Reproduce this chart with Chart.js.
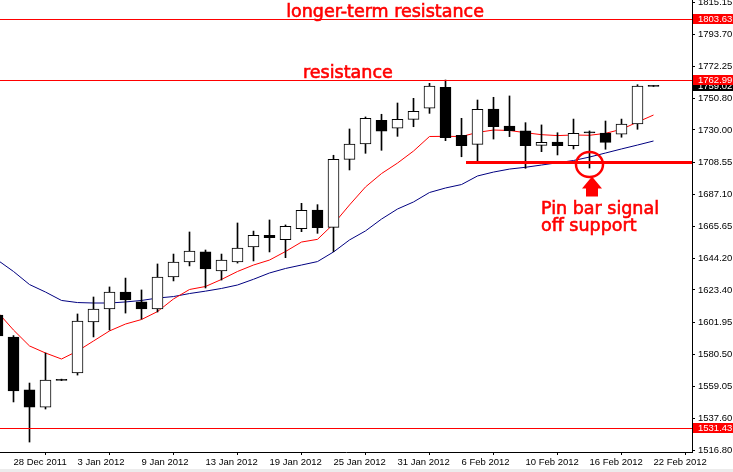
<!DOCTYPE html>
<html>
<head>
<meta charset="utf-8">
<script src="https://cdn.jsdelivr.net/npm/chart.js@4.4.1/dist/chart.umd.min.js"></script>
<style>
  html, body { margin: 0; padding: 0; background: #ececec; }
  #goldChart { display: block; background: #fff; }
</style>
</head>
<body>
<canvas id="goldChart" width="733" height="469"></canvas>
<script>
// Daily bars (gold)
const dates = [
    '27 Dec 2011', '28 Dec 2011', '29 Dec 2011', '30 Dec 2011', '2 Jan 2012', '3 Jan 2012',
    '4 Jan 2012', '5 Jan 2012', '6 Jan 2012', '9 Jan 2012', '10 Jan 2012', '11 Jan 2012',
    '12 Jan 2012', '13 Jan 2012', '16 Jan 2012', '17 Jan 2012', '18 Jan 2012', '19 Jan 2012',
    '20 Jan 2012', '23 Jan 2012', '24 Jan 2012', '25 Jan 2012', '26 Jan 2012', '27 Jan 2012',
    '30 Jan 2012', '31 Jan 2012', '1 Feb 2012', '2 Feb 2012', '3 Feb 2012', '6 Feb 2012',
    '7 Feb 2012', '8 Feb 2012', '9 Feb 2012', '10 Feb 2012', '13 Feb 2012', '14 Feb 2012',
    '15 Feb 2012', '16 Feb 2012', '17 Feb 2012', '20 Feb 2012', '21 Feb 2012', '22 Feb 2012'
];
const openPrices = [1606.7, 1592.0, 1556.8, 1545.4, 1563.2, 1568.1, 1602.1, 1610.7, 1622.0, 1615.4, 1610.7, 1632.0, 1642.0, 1648.7, 1636.0, 1642.0, 1652.0, 1659.8, 1656.9, 1664.2, 1676.6, 1665.1, 1710.4, 1720.6, 1736.4, 1731.1, 1737.0, 1744.4, 1758.4, 1726.4, 1720.4, 1743.9, 1732.6, 1729.3, 1719.7, 1721.9, 1719.5, 1728.0, 1727.9, 1727.1, 1733.9, 1759.5];
const highPrices = [1609.0, 1593.0, 1561.4, 1581.4, 1564.0, 1607.4, 1618.7, 1625.4, 1631.3, 1623.4, 1640.7, 1647.3, 1662.0, 1650.0, 1647.3, 1668.0, 1662.6, 1670.0, 1666.7, 1681.1, 1680.2, 1713.1, 1730.6, 1738.6, 1740.4, 1747.9, 1751.0, 1761.0, 1763.2, 1737.7, 1749.9, 1751.7, 1752.6, 1734.8, 1733.3, 1728.1, 1737.2, 1729.3, 1735.9, 1737.2, 1760.1, 1759.6];
const lowPrices = [1591.0, 1548.8, 1522.1, 1544.1, 1563.0, 1566.7, 1592.1, 1596.7, 1608.0, 1604.0, 1608.7, 1629.4, 1639.4, 1624.7, 1630.0, 1641.3, 1642.7, 1648.7, 1644.9, 1662.2, 1661.1, 1648.9, 1703.3, 1714.4, 1716.4, 1725.7, 1732.1, 1741.0, 1722.8, 1712.1, 1709.5, 1723.9, 1725.5, 1704.4, 1715.5, 1713.3, 1717.3, 1704.6, 1717.1, 1725.1, 1730.4, 1758.9];
const closePrices = [1592.7, 1556.1, 1545.4, 1563.4, 1563.9, 1602.7, 1610.7, 1622.0, 1616.7, 1610.7, 1632.0, 1642.0, 1649.3, 1637.4, 1643.3, 1651.3, 1659.8, 1658.2, 1665.8, 1676.4, 1664.9, 1710.4, 1720.6, 1737.7, 1729.1, 1737.0, 1742.4, 1759.2, 1724.8, 1719.5, 1743.7, 1732.1, 1729.5, 1719.5, 1721.7, 1719.5, 1727.7, 1728.7, 1721.7, 1733.9, 1759.2, 1759.02];

// Moving averages (red = fast, navy = slow)
const maFast = [1608.7, 1596.7, 1586.1, 1581.4, 1577.4, 1582.7, 1589.4, 1596.1, 1600.7, 1603.7, 1609.0, 1617.4, 1623.7, 1625.7, 1630.4, 1635.7, 1640.0, 1643.3, 1649.0, 1655.3, 1657.1, 1667.3, 1680.0, 1692.0, 1700.9, 1707.9, 1715.9, 1725.6, 1725.7, 1725.6, 1728.3, 1729.9, 1729.6, 1728.1, 1726.8, 1726.2, 1726.6, 1726.4, 1727.7, 1730.4, 1735.2, 1739.9];
const maSlow = [1643.3, 1635.7, 1627.0, 1622.0, 1616.4, 1615.0, 1614.7, 1614.7, 1615.4, 1616.4, 1618.0, 1619.0, 1621.0, 1622.6, 1624.4, 1626.7, 1630.5, 1634.7, 1637.7, 1640.0, 1642.3, 1648.7, 1656.7, 1662.7, 1670.6, 1677.3, 1682.0, 1688.3, 1691.3, 1693.6, 1699.3, 1701.9, 1703.9, 1705.1, 1706.6, 1708.1, 1709.6, 1711.9, 1714.6, 1717.3, 1719.9, 1722.6];

// Axis labels
const xTickLabels = ['28 Dec 2011', '3 Jan 2012', '9 Jan 2012', '13 Jan 2012', '19 Jan 2012', '25 Jan 2012', '31 Jan 2012', '6 Feb 2012', '10 Feb 2012', '16 Feb 2012', '22 Feb 2012'];
const yTickValues = [1815.15, 1793.70, 1772.25, 1750.80, 1730.00, 1708.55, 1687.10, 1665.65, 1644.20, 1623.40, 1601.95, 1580.50, 1559.05, 1537.60, 1516.80];

// Horizontal levels and notes
const resistanceLevels = [1803.63, 1762.99, 1531.43];
const supportLevel = 1708.6;
const supportFromDate = '6 Feb 2012';
const pinBarDate = '16 Feb 2012';
const longTermLabel = 'longer-term resistance';
const resistanceLabel = 'resistance';
const signalLines = ['Pin bar signal', 'off support'];

const axisFont = { family: "'Liberation Sans', Arial, sans-serif", size: 9.5 };
const axisFontCss = "9.5px 'Liberation Sans', Arial, sans-serif";
const noteFontCss = "17.5px 'DejaVu Sans', Verdana, sans-serif";
const RED = '#ff0000';

const barIndex = dates.map((d, i) => i);
const bodyData = barIndex.map(i => [openPrices[i], closePrices[i]]);
const wickData = barIndex.map(i => [lowPrices[i], highPrices[i]]);
// bear bodies and dojis are filled black, bull bodies white
const bodyFill = barIndex.map(i => (closePrices[i] - openPrices[i] < 1 ? '#000' : '#fff'));
const xTickIdx = xTickLabels.map(l => dates.indexOf(l));

// Lines, circle, arrow, notes and price tags
const annotationPlugin = {
    id: 'annotations',
    afterDatasetsDraw(chart) {
        const { ctx, chartArea: area, scales: { x, y } } = chart;
        ctx.save();
        ctx.strokeStyle = RED;
        ctx.fillStyle = RED;

        ctx.lineWidth = 1;
        resistanceLevels.forEach(level => {
            const ly = Math.round(y.getPixelForValue(level)) + 0.5;
            ctx.beginPath();
            ctx.moveTo(area.left, ly);
            ctx.lineTo(area.right, ly);
            ctx.stroke();
        });

        // support line from the 6 Feb low
        const sy = Math.round(y.getPixelForValue(supportLevel)) + 0.5;
        ctx.lineWidth = 3;
        ctx.beginPath();
        ctx.moveTo(x.getPixelForValue(dates.indexOf(supportFromDate)) + 4.5, sy);
        ctx.lineTo(area.right, sy);
        ctx.stroke();

        // circle round the pin bar
        const px = x.getPixelForValue(dates.indexOf(pinBarDate));
        ctx.lineWidth = 2.5;
        ctx.beginPath();
        ctx.ellipse(px, sy + 2, 13.5, 12.5, 0, 0, Math.PI * 2);
        ctx.stroke();

        // arrow pointing up at it
        const ax = px + 2.5;
        ctx.beginPath();
        ctx.moveTo(ax, sy + 14);
        ctx.lineTo(ax + 10, sy + 26);
        ctx.lineTo(ax + 6, sy + 26);
        ctx.lineTo(ax + 6, sy + 34);
        ctx.lineTo(ax - 6, sy + 34);
        ctx.lineTo(ax - 6, sy + 26);
        ctx.lineTo(ax - 10, sy + 26);
        ctx.closePath();
        ctx.fill();

        // notes (a thin stroke thickens the glyphs a little)
        ctx.font = noteFontCss;
        ctx.lineWidth = 0.6;
        ctx.textBaseline = 'alphabetic';
        const note = (text, tx, ty) => {
            ctx.fillText(text, tx, ty);
            ctx.strokeText(text, tx, ty);
        };
        ctx.textAlign = 'center';
        note(longTermLabel, x.getPixelForValue(24.22), y.getPixelForValue(resistanceLevels[0]) - 2.5);
        note(resistanceLabel, x.getPixelForValue(21.9), y.getPixelForValue(resistanceLevels[1]) - 2.5);
        ctx.textAlign = 'left';
        signalLines.forEach((line, i) => note(line, px - 48.5, sy + 51.5 + i * 17));
        ctx.restore();
    },
    afterDraw(chart) {
        const { ctx, chartArea: area, scales: { y } } = chart;
        const drawTag = (value, bg) => {
            const ty = Math.round(y.getPixelForValue(value));
            ctx.fillStyle = bg;
            ctx.fillRect(area.right + 1, ty - 5, chart.width - area.right - 1, 10);
            ctx.fillStyle = '#fff';
            ctx.font = axisFontCss;
            ctx.textAlign = 'left';
            ctx.textBaseline = 'middle';
            ctx.fillText(value.toFixed(2), area.right + 6, ty + 0.5);
        };
        ctx.save();
        drawTag(closePrices[closePrices.length - 1], '#000');
        resistanceLevels.forEach(level => drawTag(level, RED));
        ctx.restore();
    }
};

new Chart(document.getElementById('goldChart').getContext('2d'), {
    type: 'bar',
    data: {
        labels: barIndex,
        datasets: [
            {
                type: 'bar', label: 'body', data: bodyData,
                backgroundColor: bodyFill, borderColor: '#000', borderWidth: 1,
                borderSkipped: false, barThickness: 11, minBarLength: 1, grouped: false, order: 0
            },
            {
                type: 'bar', label: 'wick', data: wickData,
                backgroundColor: '#000', borderWidth: 0, barThickness: 1, grouped: false, order: 1
            },
            {
                type: 'line', label: 'fast MA', data: maFast,
                borderColor: RED, borderWidth: 1, pointRadius: 0, tension: 0, order: 2
            },
            {
                type: 'line', label: 'slow MA', data: maSlow,
                borderColor: '#000080', borderWidth: 1, pointRadius: 0, tension: 0, order: 3
            }
        ]
    },
    options: {
        responsive: false,
        devicePixelRatio: 1,
        animation: false,
        layout: { padding: 0 },
        plugins: { legend: { display: false }, tooltip: { enabled: false } },
        scales: {
            x: {
                type: 'linear',
                min: 0.15625,
                max: 43.40625,
                offset: false,
                grid: { drawOnChartArea: false, drawTicks: true, tickLength: 3, color: '#000' },
                border: { display: true, color: '#000', width: 1 },
                ticks: {
                    autoSkip: false, maxRotation: 0, align: 'start', padding: 2,
                    color: '#000', font: axisFont,
                    callback: v => dates[v]
                },
                afterBuildTicks: s => { s.ticks = xTickIdx.map(v => ({ value: v })); },
                afterFit: s => { s.height = 17; s.paddingLeft = 0; s.paddingRight = 0; }
            },
            y: {
                type: 'linear',
                position: 'right',
                bounds: 'data',
                min: 1515.47,
                max: 1816.5,
                grid: { drawOnChartArea: false, drawTicks: true, tickLength: 3, color: '#000' },
                border: { display: true, color: '#000', width: 1 },
                ticks: {
                    autoSkip: false, padding: 3, color: '#000', font: axisFont,
                    callback: v => v.toFixed(2)
                },
                afterBuildTicks: s => { s.ticks = yTickValues.map(v => ({ value: v })); },
                afterFit: s => { s.width = 41; s.paddingTop = 0; s.paddingBottom = 0; }
            }
        }
    },
    plugins: [annotationPlugin]
});
</script>
</body>
</html>
